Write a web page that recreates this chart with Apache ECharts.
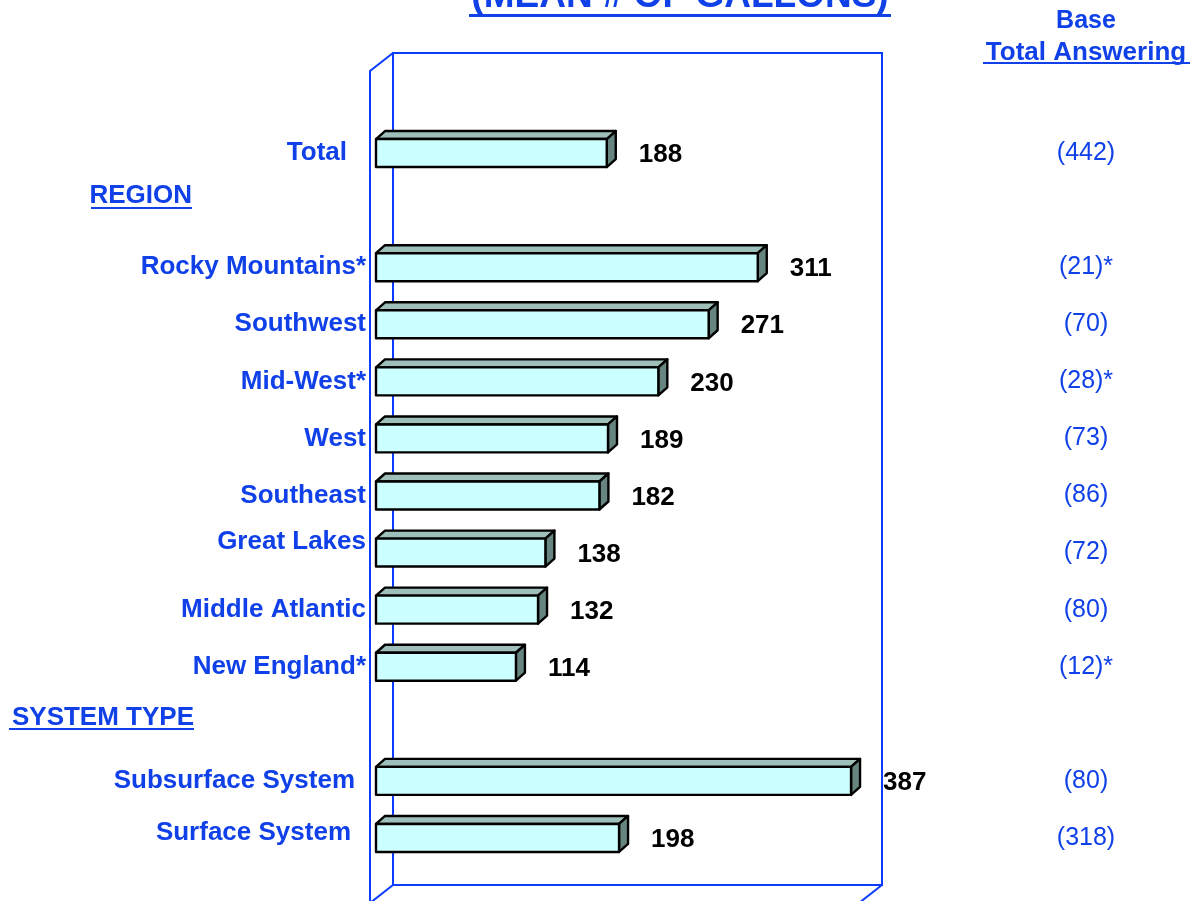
<!DOCTYPE html>
<html>
<head>
<meta charset="utf-8">
<script src="https://cdn.jsdelivr.net/npm/echarts@6/dist/echarts.min.js"></script>
<style>
  html, body { margin: 0; padding: 0; background: #fff; }
  #chart { width: 1195px; height: 901px; }
</style>
</head>
<body>
<div id="chart"></div>
<script>
// Chart data
var categories = ['Total', 'REGION', 'Rocky Mountains*', 'Southwest', 'Mid-West*', 'West',
  'Southeast', 'Great Lakes', 'Middle Atlantic', 'New England*', 'SYSTEM TYPE',
  'Subsurface System', 'Surface System'];
var gallons = [188, '-', 311, 271, 230, 189, 182, 138, 132, 114, '-', 387, 198];
var bases = ['(442)', '', '(21)*', '(70)', '(28)*', '(73)', '(86)', '(72)', '(80)', '(12)*', '',
  '(80)', '(318)'];

var BLUE = '#1040e8';
var FRAME = '#0a3cff';
var FONT = '"Liberation Sans", Arial, sans-serif';

var chart = echarts.init(document.getElementById('chart'));

// bar data, skip the section header rows
var barData = [];
gallons.forEach(function (v, i) {
  if (v !== '-') barData.push([v, categories[i]]);
});

/**
 * Draw one bar as a pseudo 3D box.
 */
function renderBar(params, api) {
  var v = api.value(0);
  var c = api.value(1);
  var start = api.coord([0, c]);
  var end = api.coord([v, c]);
  var h = api.size([0, 1])[1] * 0.49;
  var dx = 9, dy = 8;
  var x0 = start[0], x1 = end[0];
  var y0 = end[1] - h / 2, y1 = end[1] + h / 2;
  var line = { stroke: '#000', lineWidth: 2.4, lineJoin: 'round' };
  return {
    type: 'group',
    children: [
      {
        type: 'polygon',
        shape: { points: [[x0, y0], [x0 + dx, y0 - dy], [x1 + dx, y0 - dy], [x1, y0]] },
        style: Object.assign({ fill: '#9fbfbb' }, line)
      },
      {
        type: 'polygon',
        shape: { points: [[x1, y0], [x1 + dx, y0 - dy], [x1 + dx, y1 - dy], [x1, y1]] },
        style: Object.assign({ fill: '#668580' }, line)
      },
      {
        type: 'rect',
        shape: { x: x0, y: y0, width: x1 - x0, height: h },
        style: Object.assign({ fill: '#ccffff' }, line)
      },
      {
        type: 'text',
        style: {
          text: String(v),
          x: x1 + 32,
          y: end[1] + 2,
          fill: '#000',
          font: 'bold 26px ' + FONT,
          verticalAlign: 'middle',
          align: 'left'
        }
      }
    ]
  };
}

var labelRich = function (pad) {
  return { color: BLUE, fontFamily: FONT, fontWeight: 'bold', fontSize: 26, padding: pad };
};

var option = {
  backgroundColor: '#fff',
  animation: false,
  grid: { left: 376, top: 124.5, width: 491, height: 742 },
  xAxis: { type: 'value', min: 0, max: 400, show: false },
  yAxis: [
    {
      type: 'category',
      data: categories,
      inverse: true,
      position: 'left',
      axisLine: { show: false },
      axisTick: { show: false },
      splitLine: { show: false },
      axisLabel: {
        margin: 10,
        color: BLUE,
        fontFamily: FONT,
        fontWeight: 'bold',
        fontSize: 26,
        formatter: function (name) {
          if (name === 'REGION') return '{reg|' + name + '}';
          if (name === 'SYSTEM TYPE') return '{sys|' + name + '}';
          if (name === 'Total') return '{tot|' + name + '}';
          if (name === 'Subsurface System') return '{sub|' + name + '}';
          if (name === 'Surface System') return '{sur|' + name + '}';
          if (name === 'Great Lakes') return '{gl|' + name + '}';
          return name;
        },
        rich: {
          reg: labelRich([0, 174, 28, 0]),
          sys: labelRich([0, 172, 12, 0]),
          tot: labelRich([0, 19, 0, 0]),
          sub: labelRich([0, 11, 0, 0]),
          sur: labelRich([0, 15, 10, 0]),
          gl: labelRich([0, 0, 22, 0])
        }
      }
    },
    {
      type: 'category',
      data: categories,
      inverse: true,
      position: 'right',
      axisLine: { show: false },
      axisTick: { show: false },
      splitLine: { show: false },
      axisLabel: {
        margin: 219,
        align: 'center',
        color: BLUE,
        fontFamily: FONT,
        fontSize: 25,
        formatter: function (name, idx) { return bases[idx]; }
      }
    }
  ],
  graphic: [
    // back wall and left side of the 3D frame
    { type: 'rect', z: 0, shape: { x: 393, y: 53, width: 489, height: 832 },
      style: { fill: 'none', stroke: FRAME, lineWidth: 2 } },
    { type: 'polyline', z: 0, shape: { points: [[370, 905], [370, 71], [393, 53]] },
      style: { fill: 'none', stroke: FRAME, lineWidth: 2 } },
    { type: 'line', z: 0, shape: { x1: 393, y1: 885, x2: 370, y2: 903 },
      style: { stroke: FRAME, lineWidth: 2 } },
    { type: 'line', z: 0, shape: { x1: 882, y1: 885, x2: 859, y2: 903 },
      style: { stroke: FRAME, lineWidth: 2 } },
    // title, cut off at top like the source slide
    { type: 'text', z: 10, style: { text: '(MEAN # OF GALLONS)', x: 680, y: -3, align: 'center',
      verticalAlign: 'middle', fill: BLUE, font: 'bold 37px ' + FONT } },
    { type: 'line', z: 10, shape: { x1: 469, y1: 15.5, x2: 891, y2: 15.5 },
      style: { stroke: BLUE, lineWidth: 3 } },
    // base column header
    { type: 'text', z: 10, style: { text: 'Base', x: 1086, y: 21, align: 'center',
      verticalAlign: 'middle', fill: BLUE, font: 'bold 25px ' + FONT } },
    { type: 'text', z: 10, style: { text: 'Total Answering', x: 1086, y: 53, align: 'center',
      verticalAlign: 'middle', fill: BLUE, font: 'bold 26px ' + FONT } },
    { type: 'line', z: 10, shape: { x1: 983, y1: 63, x2: 1190, y2: 63 },
      style: { stroke: BLUE, lineWidth: 2 } },
    // section header underlines
    { type: 'line', z: 10, shape: { x1: 91, y1: 208, x2: 192, y2: 208 },
      style: { stroke: BLUE, lineWidth: 2 } },
    { type: 'line', z: 10, shape: { x1: 9, y1: 729, x2: 194, y2: 729 },
      style: { stroke: BLUE, lineWidth: 2 } }
  ],
  series: [
    {
      type: 'custom',
      name: 'Mean gallons',
      renderItem: renderBar,
      encode: { x: 0, y: 1 },
      data: barData,
      z: 5
    }
  ]
};

chart.setOption(option);
</script>
</body>
</html>
